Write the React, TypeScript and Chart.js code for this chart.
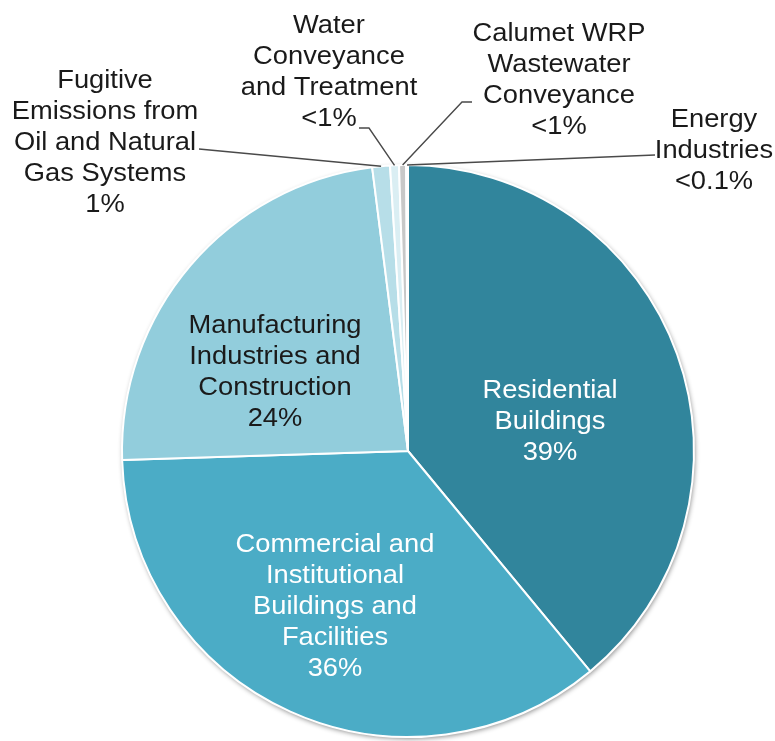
import React, { useEffect, useRef } from "react";
import { Chart, registerables } from "chart.js";

Chart.register(...registerables);

// ---- data ----
const categories = [
  "Residential Buildings",
  "Commercial and Institutional Buildings and Facilities",
  "Manufacturing Industries and Construction",
  "Fugitive Emissions from Oil and Natural Gas Systems",
  "Water Conveyance and Treatment",
  "Calumet WRP Wastewater Conveyance",
  "Energy Industries",
];
const shares = [39.0, 35.5, 23.5, 1.0, 0.5, 0.4, 0.1];
const shareLabels = ["39%", "36%", "24%", "1%", "<1%", "<1%", "<0.1%"];
const labelLines = [
  ["Residential", "Buildings"],
  ["Commercial and", "Institutional", "Buildings and", "Facilities"],
  ["Manufacturing", "Industries and", "Construction"],
  ["Fugitive", "Emissions from", "Oil and Natural", "Gas Systems"],
  ["Water", "Conveyance", "and Treatment"],
  ["Calumet WRP", "Wastewater", "Conveyance"],
  ["Energy", "Industries"],
];
const sliceColors = ["#31859C", "#4BACC6", "#92CDDC", "#B7DEE8", "#DAEEF3", "#C8C8C8", "#215968"];

// label layout (offsets relative to pie centre, in px for a 286px radius)
const labelLayout = [
  { dx: 142, dy: -53, color: "#ffffff", leader: null },
  { dx: -73, dy: 101, color: "#ffffff", leader: null },
  { dx: -133, dy: -118, color: "#1a1a1a", leader: null },
  { dx: -303, dy: -363, color: "#1a1a1a", leader: [[-209, -302]] },
  { dx: -79, dy: -418, color: "#1a1a1a", leader: [[-49, -323], [-39, -323]] },
  { dx: 151, dy: -410, color: "#1a1a1a", leader: [[64, -349], [54, -349]] },
  { dx: 306, dy: -324, color: "#1a1a1a", leader: [[247, -296]] },
];

const FONT = "26px 'Liberation Sans', Arial, sans-serif";
const LINE_H = 31;

const shadowPlugin = {
  id: "pieShadow",
  beforeDatasetsDraw(chart: any) {
    const meta = chart.getDatasetMeta(0);
    const a = meta.data[0];
    if (!a) return;
    const ctx = chart.ctx;
    ctx.save();
    ctx.shadowColor = "rgba(0,0,0,0.45)";
    ctx.shadowBlur = 5;
    ctx.shadowOffsetX = 1;
    ctx.shadowOffsetY = 2;
    ctx.fillStyle = "#ffffff";
    ctx.beginPath();
    ctx.arc(a.x, a.y, a.outerRadius, 0, Math.PI * 2);
    ctx.fill();
    ctx.restore();
  },
};

const labelPlugin = {
  id: "sliceLabels",
  afterDatasetsDraw(chart: any) {
    const meta = chart.getDatasetMeta(0);
    const ctx = chart.ctx;
    meta.data.forEach((arc: any, i: number) => {
      const lay = labelLayout[i];
      const k = arc.outerRadius / 286;
      const cx = arc.x;
      const cy = arc.y;
      // leader line
      if (lay.leader) {
        const mid = (arc.startAngle + arc.endAngle) / 2;
        const ex = cx + Math.cos(mid) * arc.outerRadius;
        const ey = cy + Math.sin(mid) * arc.outerRadius;
        ctx.save();
        ctx.strokeStyle = "#4a4a4a";
        ctx.lineWidth = 1.4;
        ctx.beginPath();
        lay.leader.forEach((p: number[], j: number) => {
          const px = cx + p[0] * k;
          const py = cy + p[1] * k;
          if (j === 0) ctx.moveTo(px, py);
          else ctx.lineTo(px, py);
        });
        ctx.lineTo(ex, ey);
        ctx.stroke();
        ctx.restore();
      }
      const lines = [...labelLines[i], shareLabels[i]];
      ctx.save();
      ctx.font = FONT;
      ctx.fillStyle = lay.color;
      ctx.textAlign = "center";
      ctx.textBaseline = "alphabetic";
      lines.forEach((t, j) => {
        ctx.save();
        ctx.translate(cx + lay.dx * k, cy + lay.dy * k + j * LINE_H);
        ctx.scale(1.05, 1);
        ctx.fillText(t, 0, 0);
        ctx.restore();
      });
      ctx.restore();
    });
  },
};

export default function App() {
  const ref = useRef<HTMLCanvasElement | null>(null);
  useEffect(() => {
    if (!ref.current) return;
    const chart = new Chart(ref.current, {
      type: "pie",
      data: {
        labels: categories,
        datasets: [
          {
            data: shares,
            backgroundColor: sliceColors,
            borderColor: "#ffffff",
            borderWidth: 2,
            hoverOffset: 0,
            offset: 0,
          },
        ],
      },
      options: {
        responsive: false,
        maintainAspectRatio: false,
        animation: false,
        devicePixelRatio: 1,
        rotation: 0,
        layout: { padding: { left: 121, right: 80, top: 164, bottom: 3 } },
        plugins: {
          legend: { display: false },
          tooltip: { enabled: false },
        },
      },
      plugins: [shadowPlugin, labelPlugin],
    } as any);
    return () => chart.destroy();
  }, []);
  return (
    <div style={{ position: "absolute", left: 0, top: 0, width: 775, height: 741, background: "#ffffff" }}>
      <canvas ref={ref} width={775} height={741} style={{ display: "block" }} />
    </div>
  );
}
